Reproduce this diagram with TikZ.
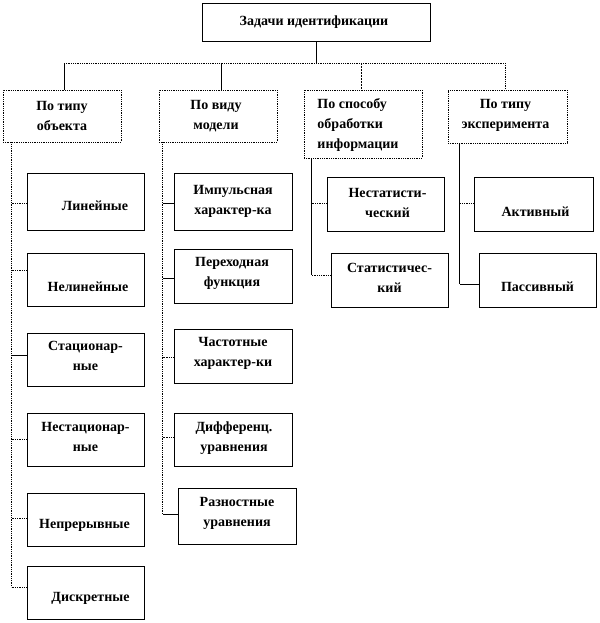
\documentclass[tikz,border=0pt]{standalone}
\usepackage{fontspec}
\setmainfont{Liberation Serif}
\begin{document}
\begin{tikzpicture}[x=1pt,y=-1pt,
  box/.style={draw=black, line width=0.8pt, inner sep=0pt, fill=white},
  hbox/.style={box, densely dotted},
  txt/.style={font=\bfseries\fontsize{14}{20}\selectfont, align=center, inner sep=0pt},
  ltxt/.style={txt, align=left},
  link/.style={line width=0.8pt},
  dlink/.style={line width=0.8pt, densely dotted},
  dashlink/.style={line width=0.8pt, dash pattern=on 2pt off 1pt}]
\useasboundingbox (0,0) rectangle (599,623);
% top
\node[box, minimum width=228, minimum height=38] (top) at (316,22) {};
\node[txt] (topt) at ([shift={(-2,0)}]top.center) {Задачи идентификации};
% level 1
\node[hbox, minimum width=118, minimum height=52] (o1) at (62,116) {};
\node[txt] (o1t) at (o1.center) {По типу\\объекта};
\node[hbox, minimum width=118, minimum height=52] (o2) at (218,116) {};
\node[txt] (o2t) at ([shift={(-2,0)}]o2.center) {По виду\\модели};
\node[hbox, minimum width=118, minimum height=68] (o3) at (363,124) {};
\node[ltxt] (o3t) at ([shift={(-5,1)}]o3.center) {По способу\\обработки\\информации};
\node[hbox, minimum width=119, minimum height=53] (o4) at (507.5,116.5) {};
\node[txt] (o4t) at ([shift={(-2,-1)}]o4.center) {По типу\\эксперимента};
% column 1
\node[box, minimum width=117, minimum height=57] (l1) at (85.5,201.5) {};
\node[txt] (l1t) at ([shift={(9.5,4.5)}]l1.center) {Линейные};
\node[box, minimum width=117, minimum height=53] (l2) at (85.5,279.5) {};
\node[txt] (l2t) at ([shift={(2.5,7.5)}]l2.center) {Нелинейные};
\node[box, minimum width=117, minimum height=53] (l3) at (85.5,359.5) {};
\node[txt] (l3t) at ([shift={(0,-4)}]l3.center) {Стационар-\\ные};
\node[box, minimum width=117, minimum height=53] (l4) at (85.5,439.5) {};
\node[txt] (l4t) at ([shift={(0,-2.5)}]l4.center) {Нестационар-\\ные};
\node[box, minimum width=117, minimum height=53] (l5) at (85.5,519.5) {};
\node[txt] (l5t) at ([shift={(-1,5.5)}]l5.center) {Непрерывные};
\node[box, minimum width=117, minimum height=53] (l6) at (85.5,592.5) {};
\node[txt] (l6t) at ([shift={(5,5.5)}]l6.center) {Дискретные};
% column 2
\node[box, minimum width=118, minimum height=57] (m1) at (233,201.5) {};
\node[txt] (m1t) at (m1.center) {Импульсная\\характер-ка};
\node[box, minimum width=118, minimum height=54] (m2) at (233,276) {};
\node[txt] (m2t) at ([shift={(-1,-2.5)}]m2.center) {Переходная\\функция};
\node[box, minimum width=118, minimum height=54] (m3) at (233,356) {};
\node[txt] (m3t) at ([shift={(0,-3)}]m3.center) {Частотные\\характер-ки};
\node[box, minimum width=118, minimum height=53] (m4) at (233,439.5) {};
\node[txt] (m4t) at ([shift={(1,-1)}]m4.center) {Дифференц.\\уравнения};
\node[box, minimum width=118, minimum height=56] (m5) at (237,516) {};
\node[txt] (m5t) at ([shift={(0,-3)}]m5.center) {Разностные\\уравнения};
% column 3
\node[box, minimum width=117, minimum height=54] (n1) at (385.5,204) {};
\node[txt] (n1t) at ([shift={(2,-1.5)}]n1.center) {Нестатисти-\\ческий};
\node[box, minimum width=117, minimum height=54] (n2) at (389.5,280) {};
\node[txt] (n2t) at ([shift={(0,-2.5)}]n2.center) {Статистичес-\\кий};
% column 4
\node[box, minimum width=119, minimum height=54] (p1) at (533.5,204) {};
\node[txt] (p1t) at ([shift={(2,8)}]p1.center) {Активный};
\node[box, minimum width=117, minimum height=54] (p2) at (537.5,280) {};
\node[txt] (p2t) at ([shift={(0,7)}]p2.center) {Пассивный};
% bus
\coordinate (b1) at (64,63);
\coordinate (b2) at (221,63);
\coordinate (b3) at (361,63);
\coordinate (b4) at (505,63);
\draw[link] (top.south) -- (top.south |- b1);
\draw[dlink] (b1) -- (b4);
\draw[link] (b1) -- (b1 |- o1.north);
\draw[link] (b2) -- (b2 |- o2.north);
\draw[dashlink] (b3) -- (b3 |- o3.north);
\draw[dlink] (b4) -- (b4 |- o4.north);
% trunk tops
\coordinate (t1) at ([shift={(9,0)}]o1.south west);
\coordinate (t2) at ([shift={(4,0)}]o2.south west);
\coordinate (t3) at ([shift={(8,0)}]o3.south west);
\coordinate (t4) at ([shift={(12,0)}]o4.south west);
% branch points on boxes
\coordinate (c11) at ([shift={(0,1.5)}]l1.west);
\coordinate (c12) at ([shift={(0,-9.5)}]l2.west);
\coordinate (c13) at ([shift={(0,-4.5)}]l3.west);
\coordinate (c14) at (l4.west);
\coordinate (c15) at ([shift={(0,-1.5)}]l5.west);
\coordinate (c16) at ([shift={(0,-5.5)}]l6.west);
\coordinate (c21) at ([shift={(0,1.5)}]m1.west);
\coordinate (c22) at ([shift={(0,2)}]m2.west);
\coordinate (c23) at ([shift={(0,1)}]m3.west);
\coordinate (c24) at ([shift={(0,-2.5)}]m4.west);
\coordinate (c25) at ([shift={(0,-2)}]m5.west);
\coordinate (c31) at ([shift={(0,-1)}]n1.west);
\coordinate (c32) at ([shift={(0,-5)}]n2.west);
\coordinate (c41) at ([shift={(0,-1)}]p1.west);
\coordinate (c42) at ([shift={(0,4)}]p2.west);
% column 1
\draw[dlink] (t1) -- (t1 |- c16);
\draw[dlink] (c11) -- (t1 |- c11);
\draw[dlink] (c12) -- (t1 |- c12);
\draw[link]  (c13) -- (t1 |- c13);
\draw[dlink] (c14) -- (t1 |- c14);
\draw[dlink] (c15) -- (t1 |- c15);
\draw[dlink] (c16) -- (t1 |- c16);
% column 2
\draw[dlink] (t2) -- (t2 |- c25);
\draw[link]  (c21) -- (t2 |- c21);
\draw[link]  (c22) -- (t2 |- c22);
\draw[dlink] (c23) -- (t2 |- c23);
\draw[dlink] (c24) -- (t2 |- c24);
\draw[link]  (c25) -- (t2 |- c25);
% column 3
\draw[link]  (t3) -- (t3 |- c32);
\draw[dlink] (c31) -- (t3 |- c31);
\draw[dlink] (c32) -- (t3 |- c32);
% column 4
\draw[link]  (t4) -- (t4 |- c42);
\draw[dlink] (c41) -- (t4 |- c41);
\draw[link]  (c42) -- (t4 |- c42);
\end{tikzpicture}
\end{document}
